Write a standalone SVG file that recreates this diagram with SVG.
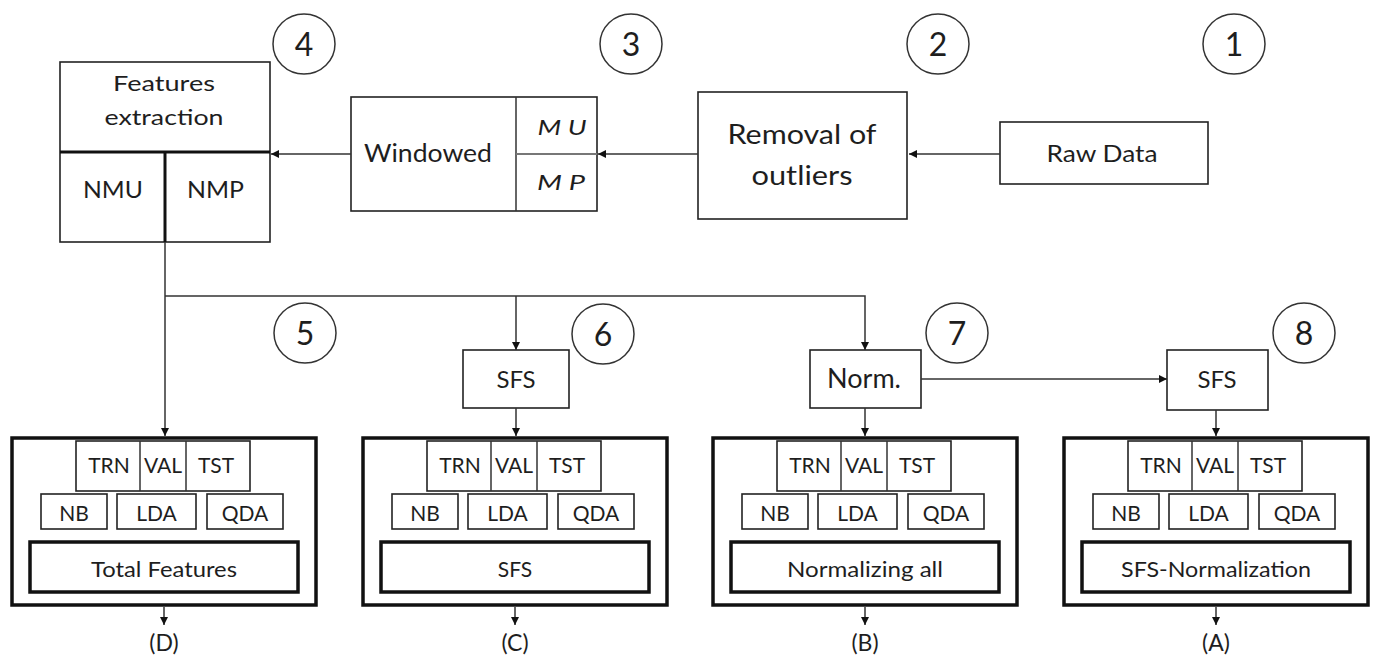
<svg xmlns="http://www.w3.org/2000/svg" width="1373" height="659" viewBox="0 0 1373 659">
<style>
text{font-family:Lato,"Liberation Sans",sans-serif;fill:#1e1e1e;text-anchor:middle}
.b{fill:#fff;stroke:#222;stroke-width:1.6}
.tk{fill:none;stroke:#111;stroke-width:3.5}
.c{fill:#fff;stroke:#333;stroke-width:1.5}
.ln{fill:none;stroke:#333;stroke-width:1.5}
.num{font-size:32px}
.t21{font-size:21px}
.t22{font-size:22px}
.t23{font-size:23px}
.t24{font-size:24px}
.t25{font-size:25px}
.t26{font-size:26px}
.it{font-style:italic}
</style>
<defs>
<marker id="ah" viewBox="0 0 10 10" refX="10" refY="5" markerWidth="9" markerHeight="8" markerUnits="userSpaceOnUse" orient="auto">
<path d="M0,0 L10,5 L0,10 z" fill="#111"/>
</marker>
<g id="inner">
<rect class="tk" x="0" y="0" width="304" height="167"/>
<rect class="b" x="64" y="3" width="174" height="50"/>
<line class="ln" x1="128" y1="3" x2="128" y2="53"/>
<line class="ln" x1="174" y1="3" x2="174" y2="53"/>
<text class="t21" x="97" y="35">TRN</text>
<text class="t21" x="151" y="35">VAL</text>
<text class="t21" x="204" y="35">TST</text>
<rect class="b" x="29" y="56" width="66" height="35"/>
<rect class="b" x="105" y="56" width="79" height="35"/>
<rect class="b" x="195" y="56" width="76" height="35"/>
<text class="t21" x="62" y="83">NB</text>
<text class="t21" x="144.5" y="83">LDA</text>
<text class="t21" x="233" y="83">QDA</text>
<rect class="tk" x="18" y="104" width="268" height="50"/>
</g>
</defs>

<g id="n1"><ellipse class="c" cx="1234" cy="44" rx="31" ry="30"/><text class="num" x="1234" y="56">1</text></g>
<g id="n2"><ellipse class="c" cx="938" cy="44" rx="31" ry="30"/><text class="num" x="938" y="56">2</text></g>
<g id="n3"><ellipse class="c" cx="631" cy="44" rx="31" ry="30"/><text class="num" x="631" y="56">3</text></g>
<g id="n4"><ellipse class="c" cx="304" cy="44" rx="31" ry="30"/><text class="num" x="304" y="56">4</text></g>
<g id="n5"><ellipse class="c" cx="305" cy="333" rx="31" ry="30"/><text class="num" x="305" y="345">5</text></g>
<g id="n6"><ellipse class="c" cx="603" cy="334" rx="31" ry="30"/><text class="num" x="603" y="346">6</text></g>
<g id="n7"><ellipse class="c" cx="957" cy="333" rx="31" ry="30"/><text class="num" x="957" y="345">7</text></g>
<g id="n8"><ellipse class="c" cx="1304" cy="333" rx="31" ry="30"/><text class="num" x="1304" y="345">8</text></g>

<g id="rawdata">
<rect class="b" x="1000" y="122" width="208" height="62"/>
<text class="t24" x="1102" y="162" textLength="111" lengthAdjust="spacingAndGlyphs">Raw Data</text>
</g>
<g id="removal">
<rect class="b" x="698" y="92" width="209" height="127"/>
<text class="t26" x="802" y="144" textLength="149" lengthAdjust="spacingAndGlyphs">Removal of</text>
<text class="t26" x="802" y="185" textLength="101" lengthAdjust="spacingAndGlyphs">outliers</text>
</g>
<g id="windowed">
<rect class="b" x="351" y="97" width="246" height="114"/>
<line class="ln" x1="516" y1="97" x2="516" y2="211"/>
<line x1="516" y1="154" x2="597" y2="154" stroke="#777" stroke-width="2"/>
<text class="t25" x="428" y="162" textLength="128" lengthAdjust="spacingAndGlyphs">Windowed</text>
<text class="t22 it" x="562" y="135" textLength="49" lengthAdjust="spacingAndGlyphs">M U</text>
<text class="t22 it" x="561" y="190" textLength="48" lengthAdjust="spacingAndGlyphs">M P</text>
</g>
<g id="features">
<rect class="b" x="60" y="62" width="210" height="180"/>
<line x1="60" y1="152" x2="270" y2="152" stroke="#111" stroke-width="3"/>
<line x1="165" y1="152" x2="165" y2="242" stroke="#111" stroke-width="3"/>
<text class="t22" x="164" y="91" textLength="102" lengthAdjust="spacingAndGlyphs">Features</text>
<text class="t22" x="164" y="125" textLength="119" lengthAdjust="spacingAndGlyphs">extraction</text>
<text class="t23" x="113" y="198" textLength="60" lengthAdjust="spacingAndGlyphs">NMU</text>
<text class="t23" x="215.5" y="198" textLength="57" lengthAdjust="spacingAndGlyphs">NMP</text>
</g>

<g id="sfs6">
<rect class="b" x="463" y="350" width="106" height="58"/>
<text class="t24" x="516" y="388">SFS</text>
</g>
<g id="norm">
<rect class="b" x="810" y="350" width="111" height="58"/>
<text class="t26" x="864" y="388" textLength="74" lengthAdjust="spacingAndGlyphs">Norm.</text>
</g>
<g id="sfs8">
<rect class="b" x="1167" y="350" width="101" height="60"/>
<text class="t24" x="1217" y="388">SFS</text>
</g>

<g id="boxD" transform="translate(12,438)">
<use href="#inner"/>
<text class="t21" x="152" y="139" textLength="146" lengthAdjust="spacingAndGlyphs">Total Features</text>
</g>
<g id="boxC" transform="translate(363,438)">
<use href="#inner"/>
<text class="t21" x="152" y="139">SFS</text>
</g>
<g id="boxB" transform="translate(713,438)">
<use href="#inner"/>
<text class="t21" x="152" y="139" textLength="156" lengthAdjust="spacingAndGlyphs">Normalizing all</text>
</g>
<g id="boxA" transform="translate(1064,438)">
<use href="#inner"/>
<text class="t21" x="152" y="139" textLength="190" lengthAdjust="spacingAndGlyphs">SFS-Normalization</text>
</g>

<g id="outputs">
<text class="t23" x="164" y="651">(D)</text>
<text class="t23" x="515" y="651">(C)</text>
<text class="t23" x="865" y="651">(B)</text>
<text class="t23" x="1216" y="651">(A)</text>
</g>

<g id="connectors" class="ln">
<line x1="1000" y1="154" x2="909" y2="154" marker-end="url(#ah)"/>
<line x1="698" y1="154" x2="598" y2="154" marker-end="url(#ah)"/>
<line x1="351" y1="154" x2="271" y2="154" marker-end="url(#ah)"/>
<path d="M165,242 V436" marker-end="url(#ah)"/>
<path d="M165,296 H865 V350" marker-end="url(#ah)"/>
<path d="M516,296 V350" marker-end="url(#ah)"/>
<path d="M516,408 V436" marker-end="url(#ah)"/>
<path d="M865,408 V436" marker-end="url(#ah)"/>
<path d="M921,379 H1167" marker-end="url(#ah)"/>
<path d="M1216,410 V436" marker-end="url(#ah)"/>
<path d="M164,607 V625" marker-end="url(#ah)"/>
<path d="M515,607 V625" marker-end="url(#ah)"/>
<path d="M865,607 V625" marker-end="url(#ah)"/>
<path d="M1216,607 V625" marker-end="url(#ah)"/>
</g>
</svg>
